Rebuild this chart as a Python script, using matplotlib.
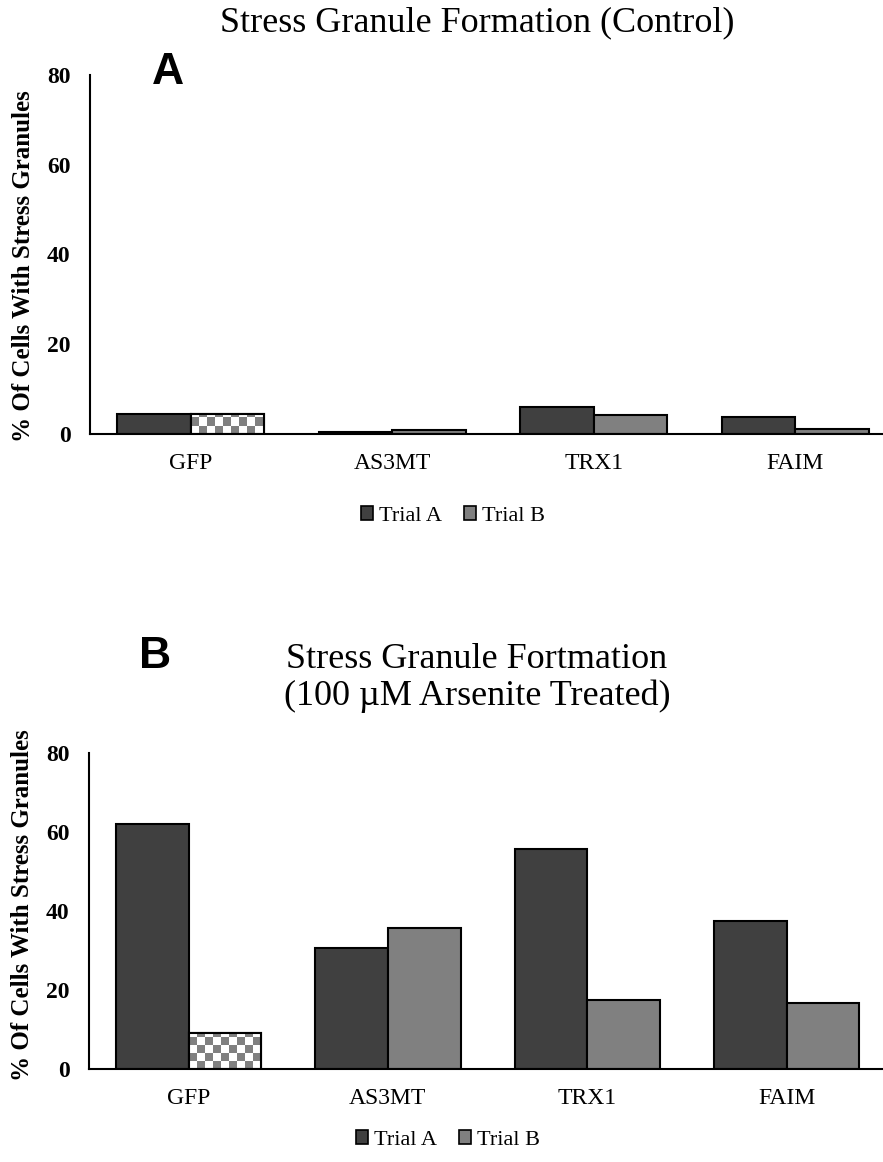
import numpy as np
import matplotlib
matplotlib.use('Agg')
import matplotlib.pyplot as plt
from matplotlib.patches import Patch

genes = ["GFP", "AS3MT", "TRX1", "FAIM"]
control_a = [4.5, 0.5, 6.0, 3.8]
control_b = [4.5, 1.0, 4.3, 1.2]
arsenite_a = [62, 30.6, 55.7, 37.5]
arsenite_b = [9.1, 35.7, 17.5, 16.7]
yticks = [0, 20, 40, 60, 80]

W, H = 883, 1162
DARK = '#404040'
GRAY = '#808080'
SERIF = 'Liberation Serif'
fig = plt.figure(figsize=(W / 100, H / 100), dpi=100)


def checker_fill(ax, bar, cell_px=8):
    # checkered texture clipped to the bar (the Excel pattern fill)
    x0, y0 = bar.get_x(), bar.get_y()
    x1, y1 = x0 + bar.get_width(), y0 + bar.get_height()
    p0 = ax.transData.transform((x0, y0))
    p1 = ax.transData.transform((x1, y1))
    nx = max(1, int(np.ceil(abs(p1[0] - p0[0]) / cell_px)))
    ny = max(1, int(np.ceil(abs(p1[1] - p0[1]) / cell_px)))
    board = np.indices((ny, nx)).sum(axis=0) % 2
    im = ax.imshow(board, cmap=matplotlib.colors.ListedColormap(['white', GRAY]),
                   extent=(x0, x0 + nx * cell_px * (x1 - x0) / abs(p1[0] - p0[0]),
                           y0, y0 + ny * cell_px * (y1 - y0) / abs(p1[1] - p0[1])),
                   origin='lower', aspect='auto', interpolation='nearest', zorder=2.5)
    im.set_clip_path(bar)
    ax.bar(bar.get_x(), bar.get_height(), width=bar.get_width(), align='edge',
           facecolor='none', edgecolor='black', linewidth=1.5, zorder=3)


def panel(left, base, top, spacing, vals_a, vals_b):
    ax = fig.add_axes([left / W, 1 - base / H, (W - left) / W, (base - top) / H])
    x = np.arange(len(genes))
    w = 0.365
    ax.bar(x - w / 2, vals_a, width=w, color=DARK, edgecolor='black', linewidth=1.5, zorder=2)
    bars_b = ax.bar(x + w / 2, vals_b, width=w, color=GRAY, edgecolor='black', linewidth=1.5, zorder=2)
    ax.set_xlim(-0.5, -0.5 + (W - left) / spacing)
    ax.set_ylim(0, 80)
    ax.set_xticks(x)
    ax.set_xticklabels(genes, fontfamily=SERIF, fontsize=17)
    ax.set_yticks(yticks)
    ax.set_yticklabels([str(t) for t in yticks], fontfamily=SERIF, fontsize=17, fontweight='bold')
    ax.tick_params(axis='both', length=0)
    ax.tick_params(axis='y', pad=14)
    ax.tick_params(axis='x', pad=14)
    for s in ['top', 'right']:
        ax.spines[s].set_visible(False)
    for s in ['left', 'bottom']:
        ax.spines[s].set_linewidth(1.5)
    # GFP trial B has a checkered fill
    bars_b[0].set_facecolor('white')
    checker_fill(ax, bars_b[0])
    return ax


ax1 = panel(90, 434, 75, 201.5, control_a, control_b)
ax2 = panel(89, 1069, 753, 199.3, arsenite_a, arsenite_b)

fig.text(477 / W, 1 - 23 / H, "Stress Granule Formation (Control)", ha='center', va='center',
         fontfamily=SERIF, fontsize=26)
fig.text(477 / W, 1 - 678 / H, "Stress Granule Fortmation\n(100 \u00b5M Arsenite Treated)",
         ha='center', va='center', fontfamily=SERIF, fontsize=26, linespacing=1.15)

fig.text(168 / W, 1 - 72 / H, "A", ha='center', va='center', fontfamily='Liberation Sans',
         fontweight='bold', fontsize=32)
fig.text(155 / W, 1 - 656 / H, "B", ha='center', va='center', fontfamily='Liberation Sans',
         fontweight='bold', fontsize=32)

ylab = "% Of Cells With Stress Granules"
fig.text(24 / W, 1 - 266 / H, ylab, rotation=90, ha='center', va='center',
         fontfamily=SERIF, fontsize=18, fontweight='bold')
fig.text(23 / W, 1 - 905 / H, ylab, rotation=90, ha='center', va='center',
         fontfamily=SERIF, fontsize=18, fontweight='bold')

handles = [Patch(facecolor=DARK, edgecolor='black', linewidth=1.2, label='Trial A'),
           Patch(facecolor=GRAY, edgecolor='black', linewidth=1.2, label='Trial B')]
for yc, xc in [(516, 453), (1140, 448)]:
    fig.legend(handles=handles, loc='center', bbox_to_anchor=(xc / W, 1 - yc / H), ncol=2,
               frameon=False, prop={'family': SERIF, 'size': 16}, handlelength=0.55,
               handleheight=0.55, handletextpad=0.25, columnspacing=1.0)

fig.savefig('out.png', dpi=100)
